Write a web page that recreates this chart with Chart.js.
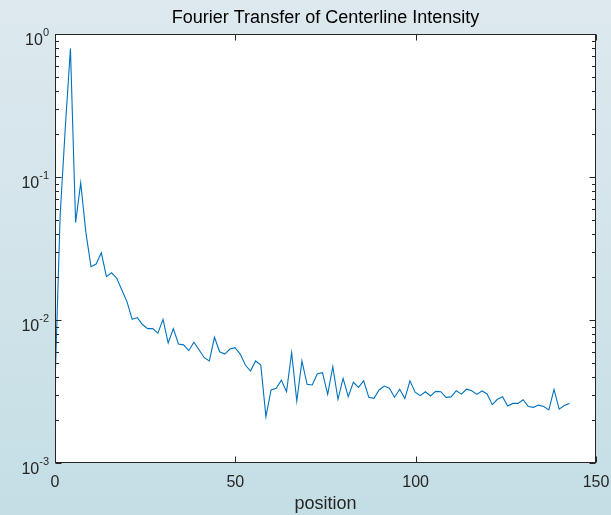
<!DOCTYPE html>
<html>
<head>
<meta charset="utf-8">
<script src="https://cdn.jsdelivr.net/npm/chart.js@4.4.1/dist/chart.umd.min.js"></script>
<style>
  html, body { margin: 0; padding: 0; }
  #wrap {
    width: 611px; height: 515px; position: relative;
    background: linear-gradient(to bottom, #dde9ef 0%, #d2e4ea 50%, #c4dee5 100%);
  }
</style>
</head>
<body>
<div id="wrap"><canvas id="c" width="611" height="515"></canvas></div>
<script>
// Spatial frequency positions of the transform samples
const positions = [
  0, 1.43, 2.85, 4.28, 5.71, 7.13, 8.56, 9.98, 11.41, 12.84,
  14.26, 15.69, 17.12, 18.54, 19.97, 21.40, 22.82, 24.25, 25.68, 27.10,
  28.53, 29.95, 31.38, 32.81, 34.23, 35.66, 37.09, 38.51, 39.94, 41.37,
  42.79, 44.22, 45.64, 47.07, 48.50, 49.92, 51.35, 52.78, 54.20, 55.63,
  57.06, 58.48, 59.91, 61.34, 62.76, 64.19, 65.61, 67.04, 68.47, 69.89,
  71.32, 72.75, 74.17, 75.60, 77.03, 78.45, 79.88, 81.30, 82.73, 84.16,
  85.58, 87.01, 88.44, 89.86, 91.29, 92.72, 94.14, 95.57, 97.00, 98.42,
  99.85, 101.27, 102.70, 104.13, 105.55, 106.98, 108.41, 109.83, 111.26, 112.69,
  114.11, 115.54, 116.96, 118.39, 119.82, 121.24, 122.67, 124.10, 125.52, 126.95,
  128.38, 129.80, 131.23, 132.66, 134.08, 135.51, 136.93, 138.36, 139.79, 141.21,
  142.64
];

// Magnitude of the Fourier transform of the centerline intensity
const magnitude = [
  0.0035, 0.054, 0.22, 0.79, 0.048, 0.091, 0.041, 0.0236, 0.0246, 0.0295,
  0.0201, 0.0214, 0.0196, 0.0162, 0.0134, 0.0101, 0.0104, 0.0093, 0.0087, 0.0087,
  0.0081, 0.0101, 0.0069, 0.0087, 0.0068, 0.0067, 0.0061, 0.0070, 0.0062, 0.00545,
  0.00517, 0.00757, 0.0060, 0.00578, 0.00627, 0.0064, 0.00578, 0.00484, 0.0044, 0.00517,
  0.00484, 0.00211, 0.00324, 0.00333, 0.0038, 0.00315, 0.0059, 0.00271, 0.00517, 0.00355,
  0.00351, 0.00421, 0.00428, 0.00302, 0.00471, 0.00279, 0.00391, 0.00291, 0.00367, 0.00338,
  0.00376, 0.00288, 0.00283, 0.00324, 0.00345, 0.00333, 0.00288, 0.00328, 0.00282, 0.00376,
  0.00313, 0.00296, 0.00315, 0.00294, 0.00317, 0.00315, 0.00288, 0.00290, 0.00320, 0.00303,
  0.00328, 0.00320, 0.00302, 0.00319, 0.00304, 0.00256, 0.00279, 0.00291, 0.00250, 0.00261,
  0.00261, 0.00277, 0.00248, 0.00245, 0.00254, 0.00248, 0.00235, 0.00327, 0.00238, 0.00252,
  0.00261
];

const xTicks = [0, 50, 100, 150];
const xTickLabels = ['0', '50', '100', '150'];
const yTicks = [1, 0.1, 0.01, 0.001];
const yTickExponents = ['0', '-1', '-2', '-3'];

const titleText = 'Fourier Transfer of Centerline Intensity';
const xTitleText = 'position';

const FONT = '"Liberation Sans", Arial, Helvetica, sans-serif';
const INK = '#262626';

// White plot box, inward ticks on all four sides, and the axis text
const axesBox = {
  id: 'axesBox',
  beforeDraw(chart) {
    const { ctx, chartArea: a } = chart;
    ctx.save();
    ctx.fillStyle = '#ffffff';
    ctx.fillRect(a.left, a.top, a.right - a.left, a.bottom - a.top);
    ctx.restore();
  },
  afterDraw(chart) {
    const { ctx, chartArea: a, scales } = chart;
    const xs = scales.x, ys = scales.y;
    const L = Math.round(a.left) + 0.5, R = Math.round(a.right) - 0.5;
    const T = Math.round(a.top) + 0.5, B = Math.round(a.bottom) - 0.5;
    ctx.save();
    ctx.strokeStyle = INK;
    ctx.lineWidth = 1;
    ctx.strokeRect(L, T, R - L, B - T);

    ctx.beginPath();
    xTicks.forEach(v => {
      const px = Math.round(xs.getPixelForValue(v)) + 0.5;
      ctx.moveTo(px, B); ctx.lineTo(px, B - 6);
      ctx.moveTo(px, T); ctx.lineTo(px, T + 6);
    });
    // decade ticks plus minor ticks between decades
    for (let d = -3; d <= 0; d++) {
      for (let m = 1; m <= 9; m++) {
        if (d === 0 && m > 1) break;
        const v = m * Math.pow(10, d);
        const len = m === 1 ? 6 : 3.5;
        const py = Math.round(ys.getPixelForValue(v)) + 0.5;
        ctx.moveTo(L, py); ctx.lineTo(L + len, py);
        ctx.moveTo(R, py); ctx.lineTo(R - len, py);
      }
    }
    ctx.stroke();

    ctx.fillStyle = INK;
    // x tick labels
    ctx.font = '16px ' + FONT;
    ctx.textAlign = 'center';
    ctx.textBaseline = 'alphabetic';
    xTicks.forEach((v, i) => {
      ctx.fillText(xTickLabels[i], xs.getPixelForValue(v), B + 24);
    });

    // y tick labels as 10 with a raised exponent
    yTicks.forEach((v, i) => {
      const py = ys.getPixelForValue(v);
      ctx.font = '16px ' + FONT;
      const wBase = ctx.measureText('10').width;
      ctx.font = '11px ' + FONT;
      const wExp = ctx.measureText(yTickExponents[i]).width;
      const x0 = 49 - wBase - wExp;
      ctx.textAlign = 'left';
      ctx.font = '16px ' + FONT;
      ctx.fillText('10', x0, py + 11);
      ctx.font = '11px ' + FONT;
      ctx.fillText(yTickExponents[i], x0 + wBase, py + 2);
    });

    // axis title and plot title
    ctx.textAlign = 'center';
    ctx.font = '18px ' + FONT;
    ctx.fillText(xTitleText, (a.left + a.right) / 2, 509);
    ctx.fillStyle = '#000000';
    ctx.fillText(titleText, (a.left + a.right) / 2, 23);
    ctx.restore();
  }
};

new Chart(document.getElementById('c'), {
  type: 'line',
  data: {
    datasets: [{
      data: positions.map((p, i) => ({ x: p, y: magnitude[i] })),
      borderColor: '#0072BD',
      borderWidth: 1.1,
      pointRadius: 0,
      tension: 0,
      fill: false
    }]
  },
  options: {
    responsive: false,
    animation: false,
    devicePixelRatio: 1,
    layout: { padding: { left: 55, right: 15, top: 34, bottom: 52 } },
    plugins: { legend: { display: false }, tooltip: { enabled: false }, title: { display: false } },
    scales: {
      x: { type: 'linear', min: 0, max: 150, display: false },
      y: { type: 'logarithmic', min: 0.001, max: 1, display: false }
    }
  },
  plugins: [axesBox]
});
</script>
</body>
</html>
